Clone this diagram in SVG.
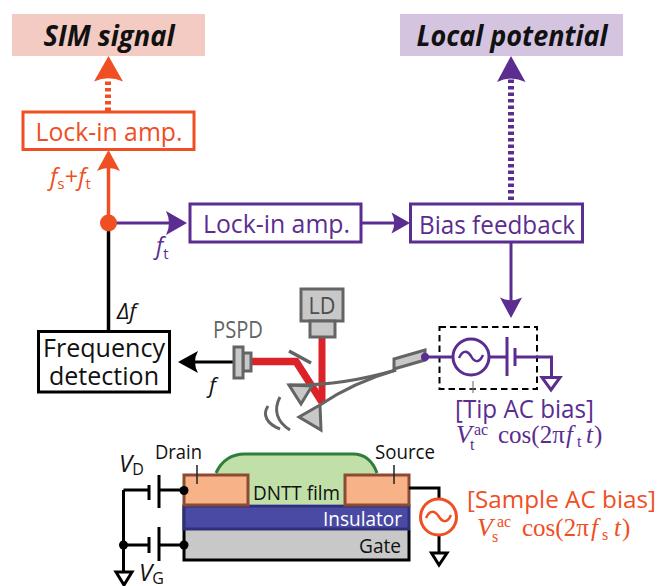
<svg xmlns="http://www.w3.org/2000/svg" width="659" height="586" viewBox="0 0 659 586">
<style>
text{font-family:"Open Sans","Noto Sans",sans-serif;}
.r{fill:#f04e23}.p{fill:#5b2d90}.k{fill:#111}.g{fill:#636466}
text.m{font-family:"Liberation Serif","DejaVu Serif",serif}
.i{font-style:italic}
.sr{stroke:#f04e23;fill:none}.sp{stroke:#5b2d90;fill:none}.sk{stroke:#000;fill:none}
.gy{fill:#c8c8c8;stroke:#636466;stroke-width:3}
</style>
<rect width="659" height="586" fill="#fff"/>
<g id="connectors">
<path class="sr" d="M108 111V79" stroke-width="6" stroke-dasharray="3.5 3"/>
<path class="r" d="M108.500 56L123 81.500Q108.500 75 94 81.500Z"/>
<path class="sp" d="M511 200V79" stroke-width="6" stroke-dasharray="3.500 3"/>
<path class="p" d="M511 56L525.500 82Q511 75 497 82Z"/>
<path class="sr" d="M108.500 223V166" stroke-width="3.500"/>
<path class="r" d="M108.500 150L120 171Q108.500 165 97 171Z"/>
<path class="sk" d="M108.500 230V331" stroke-width="3.500"/>
<path class="sp" d="M116 223H172" stroke-width="3"/>
<path class="p" d="M187 223L166 235Q172 223 166 211Z"/>
<path class="sp" d="M361 223H397" stroke-width="3"/>
<path class="p" d="M410 223L391.500 233.500Q397 223 391.500 212.500Z"/>
<path class="sp" d="M511 242V302" stroke-width="3"/>
<path class="p" d="M511 318L500 297.500Q511 303 522 297.500Z"/>
<path class="sk" d="M233 362H192" stroke-width="3"/>
<path d="M178 362L198 351Q192 362 198 373Z" fill="#000"/>
</g>
<g id="sim-signal"><rect x="12" y="14" width="193" height="42" fill="#f4cbc2"/>
<text x="109" y="46" text-anchor="middle" font-size="28" font-weight="700" font-style="italic" class="k" textLength="131" lengthAdjust="spacingAndGlyphs">SIM signal</text></g>
<g id="local-potential"><rect x="400" y="14" width="223" height="42" fill="#d5c4e0"/>
<text x="512" y="46" text-anchor="middle" font-size="28" font-weight="700" font-style="italic" class="k" textLength="191" lengthAdjust="spacingAndGlyphs">Local potential</text></g>
<g id="lockin-red"><rect x="23" y="112" width="171" height="37.500" fill="#fff" stroke="#f04e23" stroke-width="3"/>
<text x="35.500" y="141" font-size="26" class="r" textLength="147" lengthAdjust="spacingAndGlyphs">Lock-in amp.</text></g>
<g id="freq-sum"><text x="50" y="185" font-size="23" class="r i" textLength="41" lengthAdjust="spacingAndGlyphs">f<tspan font-size="15" dy="4" font-style="normal">s</tspan><tspan dy="-4" font-style="normal">+</tspan>f<tspan font-size="15" dy="4" font-style="normal">t</tspan></text></g>
<g id="junction"><circle cx="108.500" cy="223" r="8.500" fill="#f04e23"/></g>
<g id="freq-t"><text x="156" y="254" font-size="23" class="p i">f<tspan font-size="15" dy="5" font-style="normal">t</tspan></text></g>
<g id="lockin-purple"><rect x="190" y="204" width="171" height="38" fill="#fff" stroke="#5b2d90" stroke-width="3"/>
<text x="203" y="233" font-size="26" class="p" textLength="147" lengthAdjust="spacingAndGlyphs">Lock-in amp.</text></g>
<g id="bias-feedback"><rect x="410.500" y="204" width="172" height="38" fill="#fff" stroke="#5b2d90" stroke-width="3"/>
<text x="419" y="234" font-size="26" class="p" textLength="156" lengthAdjust="spacingAndGlyphs">Bias feedback</text></g>
<g id="delta-f"><text x="117" y="319" font-size="22" class="k i">Δf</text></g>
<g id="frequency-detection"><rect x="38.500" y="331.500" width="131" height="60.500" fill="#fff" stroke="#000" stroke-width="3"/>
<text x="104" y="357" text-anchor="middle" font-size="25" class="k" textLength="122" lengthAdjust="spacingAndGlyphs">Frequency</text>
<text x="104" y="385" text-anchor="middle" font-size="25" class="k" textLength="110" lengthAdjust="spacingAndGlyphs">detection</text></g>
<g id="freq-f"><text x="209" y="393" font-size="22" class="k i">f</text></g>
<g id="optics">
<path d="M250 361.500H296L322 402" fill="none" stroke="#dc2229" stroke-width="7.500"/>
<path d="M322 337V403" fill="none" stroke="#dc2229" stroke-width="7"/>
<path d="M289 351L311 363" stroke="#636466" stroke-width="3.500"/>
</g>
<g id="pspd">
<text x="238" y="338" text-anchor="middle" font-size="23" class="g" textLength="50" lengthAdjust="spacingAndGlyphs">PSPD</text>
<rect x="243" y="353" width="8" height="18" class="gy"/><rect x="234" y="347" width="9" height="31" class="gy"/>
</g>
<g id="ld"><rect x="301" y="289" width="42" height="32" class="gy"/><rect x="310" y="321" width="25" height="16" class="gy"/>
<text x="322" y="314" text-anchor="middle" font-size="23" fill="#4d4d4f" textLength="27" lengthAdjust="spacingAndGlyphs">LD</text></g>
<g id="cantilever">
<path d="M289 385L312 386L301 404Z" class="gy"/>
<path d="M299 417L320 405L321 430Z" class="gy"/>
<path d="M289 385C330 386 365 379 396 370" fill="none" stroke="#636466" stroke-width="3"/>
<path d="M320 405C345 388 372 377 396 370" fill="none" stroke="#636466" stroke-width="3"/>
<path d="M394 359L425 350V360L394 369Z" class="gy"/>
<path d="M280 397C273 410 277 422 290 430M268 406C262 415 267 424 280 429" fill="none" stroke="#636466" stroke-width="3"/>
</g>
<g id="tip-bias">
<rect x="439.500" y="327" width="97.500" height="62" fill="none" stroke="#000" stroke-width="2" stroke-dasharray="6.500 4"/>
<path class="sp" d="M425 357H453M489 357H507M507 337V376M515 348V366M515 357H551.500V378M542 377.500H560L551 390Z" stroke-width="3"/>
<circle cx="425" cy="357" r="4" fill="#5b2d90"/>
<circle cx="471" cy="357" r="18" class="sp" stroke-width="3"/>
<path class="sp" d="M459 358C463 349 468 351 471 356C474 362 479 364 483 355" stroke-width="2.500"/>
<path d="M473 381V393M470 389H476" stroke="#636466" stroke-width="1"/>
<text x="455" y="418" font-size="25" class="p" textLength="139" lengthAdjust="spacingAndGlyphs">[Tip AC bias]</text>
<text x="456" y="443" font-size="26" class="p m i">V</text>
<text x="470" y="450" font-size="16" class="p m">t</text>
<text x="474" y="435" font-size="16" class="p m">ac</text>
<text x="498" y="443" font-size="25" class="p m">cos(2π</text>
<text x="566" y="443" font-size="25" class="p m i">f</text>
<text x="577" y="447" font-size="16" class="p m">t</text>
<text x="586" y="443" font-size="25" class="p m i">t</text>
<text x="594" y="443" font-size="25" class="p m">)</text>
</g>
<g id="device">
<path d="M216 504V473C222 460 232 454 245 454H353C365 454 373 462 377 473V504Z" fill="#c1e0a8"/>
<path d="M216 473C222 460 232 454 245 454H353C365 454 373 462 377 473" fill="none" stroke="#2e7d3c" stroke-width="3"/>
<path d="M184 505V560H409V530" fill="#c8c8c8" stroke="#000" stroke-width="3"/>
<rect x="184" y="506" width="225" height="23" fill="#4a4aa5" stroke="#2f3176" stroke-width="3"/>
<rect x="184" y="475" width="64" height="30" fill="#f7b287" stroke="#8b4a32" stroke-width="3"/>
<rect x="345" y="475" width="64" height="30" fill="#f7b287" stroke="#8b4a32" stroke-width="3"/>
<path d="M197 465V484M394 465V484" stroke="#222" stroke-width="1.500"/>
<text x="155" y="459" font-size="20" class="k" textLength="47" lengthAdjust="spacingAndGlyphs">Drain</text>
<text x="375" y="459" font-size="20" class="k" textLength="60" lengthAdjust="spacingAndGlyphs">Source</text>
<text x="253" y="500" font-size="20" class="k" textLength="87" lengthAdjust="spacingAndGlyphs">DNTT film</text>
<text x="323" y="526" font-size="20" fill="#fff" textLength="79" lengthAdjust="spacingAndGlyphs">Insulator</text>
<text x="359" y="553" font-size="20" class="k" textLength="42" lengthAdjust="spacingAndGlyphs">Gate</text>
</g>
<g id="gate-drain-bias">
<path class="sk" d="M123.500 490V572M123.500 490H149M149 485V500M159 475V508M159 490H184M123.500 545H149M149 537V553M159 527V561M159 545H184M116 572H132L124 585Z" stroke-width="3"/>
<circle cx="184" cy="490.500" r="4.500" fill="#000"/><circle cx="184" cy="545" r="4.500" fill="#000"/><circle cx="123.500" cy="545" r="4.500" fill="#000"/>
<text x="119" y="472" font-size="24" class="k i">V<tspan font-size="16" dy="3" font-style="normal">D</tspan></text>
<text x="139" y="581" font-size="24" class="k i">V<tspan font-size="16" dy="3" font-style="normal">G</tspan></text>
</g>
<g id="sample-bias">
<path class="sk" d="M409 488H439V499M439 535V553M431.500 553H447L439 565Z" stroke-width="3"/>
<circle cx="438.500" cy="517" r="18" fill="#fff" stroke="#f04e23" stroke-width="3"/>
<path class="sr" d="M426 518C430 509 435 511 438.500 516C442 522 447 524 451 515" stroke-width="2.500"/>
<text x="467" y="508" font-size="24.500" class="r" textLength="189" lengthAdjust="spacingAndGlyphs">[Sample AC bias]</text>
<text x="477" y="536" font-size="26" class="r m i">V</text>
<text x="492" y="542" font-size="16" class="r m">s</text>
<text x="497" y="527" font-size="16" class="r m">ac</text>
<text x="522" y="536" font-size="25" class="r m">cos(2π</text>
<text x="591" y="536" font-size="25" class="r m i">f</text>
<text x="602" y="540" font-size="16" class="r m">s</text>
<text x="614" y="536" font-size="25" class="r m i">t</text>
<text x="622" y="536" font-size="25" class="r m">)</text>
</g>
</svg>
